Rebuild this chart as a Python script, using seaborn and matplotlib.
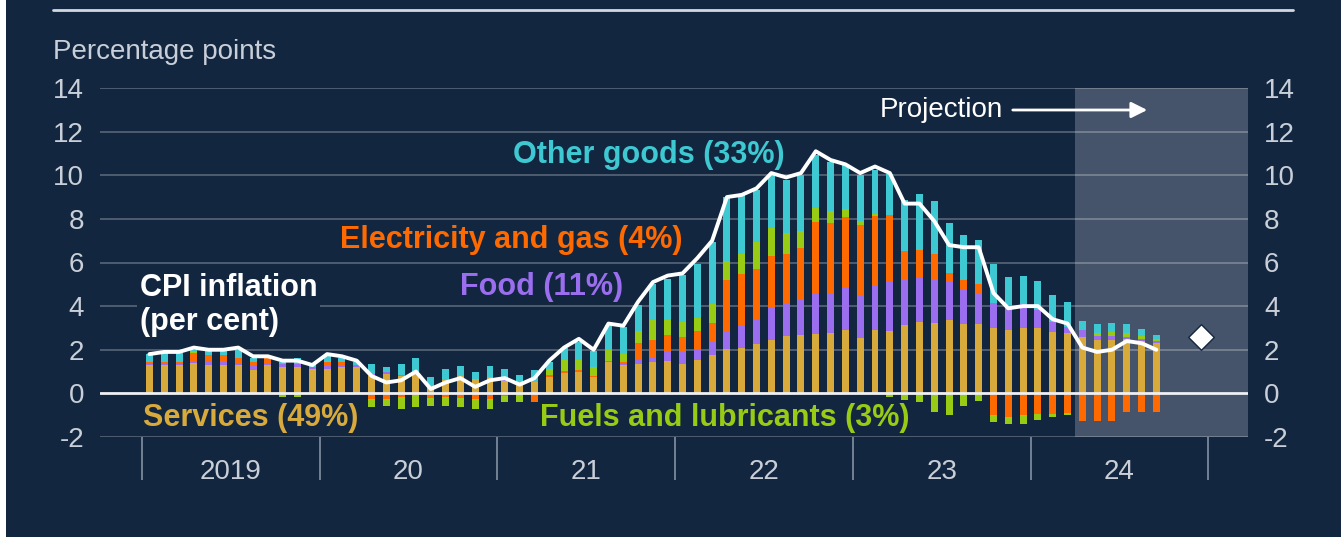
import numpy as np
import pandas as pd
import matplotlib
matplotlib.use("Agg")
import matplotlib.pyplot as plt
from matplotlib.lines import Line2D
from matplotlib.patches import Rectangle
import seaborn as sns

# contributions to CPI inflation, percentage points, Jan 2019 - Sep 2024
services = [1.28, 1.28, 1.28, 1.39, 1.30, 1.28, 1.28, 1.06, 1.30, 1.20, 1.20, 1.10,
            1.10, 1.20, 1.20, 0.80, 0.90, 0.80, 1.00, 0.32, 0.60, 0.80, 0.65, 0.75,
            0.55, 0.50, 0.52, 0.75, 0.92, 1.00, 0.75, 1.43, 1.28, 1.36, 1.43, 1.50,
            1.36, 1.51, 1.74, 2.05, 2.10, 2.28, 2.46, 2.61, 2.69, 2.74, 2.77, 2.92,
            2.55, 2.89, 2.86, 3.12, 3.27, 3.23, 3.38, 3.17, 3.20, 3.00, 2.89, 3.01,
            3.01, 2.81, 2.77, 2.58, 2.46, 2.46, 2.50, 2.40, 2.30]
food = [0.10, 0.10, 0.10, 0.10, 0.12, 0.18, 0.10, 0.18, 0.10, 0.16, 0.16, 0.10,
        0.15, 0.12, 0.12, 0.10, 0.10, 0.05, 0.00, 0.03, 0.00, 0.00, -0.05, -0.10,
        0.05, 0.00, 0.00, 0.00, -0.03, 0.00, 0.00, 0.00, 0.07, 0.18, 0.23, 0.40,
        0.54, 0.54, 0.66, 0.76, 0.97, 1.10, 1.47, 1.47, 1.65, 1.80, 1.83, 1.96,
        1.95, 2.06, 2.24, 2.14, 2.07, 1.95, 1.72, 1.59, 1.40, 1.15, 1.15, 1.10,
        0.80, 0.46, 0.27, 0.31, 0.15, 0.15, 0.10, 0.10, 0.10]
elec_gas = [0.05, 0.05, 0.05, 0.38, 0.34, 0.28, 0.23, 0.20, 0.22, 0.00, 0.00, 0.00,
            0.20, 0.10, 0.00, -0.24, -0.24, -0.15, -0.08, -0.20, -0.17, -0.20, -0.20, -0.15,
            -0.10, 0.00, -0.40, 0.08, 0.12, 0.07, 0.05, 0.06, 0.08, 0.76, 0.77, 0.76,
            0.70, 0.81, 0.83, 2.37, 2.39, 2.34, 2.35, 2.33, 2.34, 3.32, 3.21, 3.21,
            3.21, 3.17, 3.07, 1.27, 1.25, 1.23, 0.42, 0.42, 0.43, -1.00, -1.09, -1.01,
            -0.93, -0.93, -0.90, -1.28, -1.28, -1.28, -0.87, -0.87, -0.87]
fuels = [0.00, 0.02, 0.03, 0.08, 0.02, 0.00, 0.00, 0.00, -0.05, -0.17, -0.17, 0.00,
         0.05, 0.03, 0.00, -0.40, -0.36, -0.55, -0.55, -0.40, -0.43, -0.43, -0.45, -0.45,
         -0.30, -0.40, 0.00, 0.27, 0.47, 0.46, 0.39, 0.48, 0.39, 0.56, 0.95, 0.72,
         0.67, 0.61, 0.85, 0.89, 0.95, 1.22, 1.32, 0.94, 0.77, 0.66, 0.55, 0.38,
         0.19, 0.12, -0.17, -0.29, -0.39, -0.85, -0.97, -0.60, -0.35, -0.30, -0.33, -0.41,
         -0.27, -0.16, -0.08, 0.00, 0.16, 0.20, 0.17, 0.12, 0.10]
other_goods = [0.37, 0.40, 0.40, 0.05, 0.20, 0.26, 0.38, 0.20, 0.05, 0.10, 0.25, 0.10,
               0.25, 0.15, 0.10, 0.46, 0.20, 0.50, 0.64, 0.40, 0.50, 0.45, 0.33, 0.50,
               0.50, 0.33, 0.57, 0.34, 0.55, 0.82, 0.75, 1.15, 1.22, 1.18, 1.65, 1.88,
               2.14, 2.48, 2.86, 2.93, 2.67, 2.37, 2.40, 2.42, 2.55, 2.40, 2.25, 1.99,
               2.10, 1.99, 1.91, 2.32, 2.57, 2.41, 2.29, 2.07, 1.99, 1.77, 1.30, 1.26,
               1.34, 1.23, 1.15, 0.43, 0.40, 0.42, 0.40, 0.31, 0.16]
cpi = [1.8, 1.9, 1.9, 2.1, 2.0, 2.0, 2.1, 1.7, 1.7, 1.5, 1.5, 1.3,
       1.8, 1.7, 1.5, 0.8, 0.5, 0.6, 1.0, 0.2, 0.5, 0.7, 0.3, 0.6,
       0.7, 0.4, 0.7, 1.5, 2.1, 2.5, 2.0, 3.2, 3.1, 4.2, 5.1, 5.4,
       5.5, 6.2, 7.0, 9.0, 9.1, 9.4, 10.1, 9.9, 10.1, 11.1, 10.7, 10.5,
       10.1, 10.4, 10.1, 8.7, 8.7, 7.9, 6.8, 6.7, 6.7, 4.6, 3.9, 4.0,
       4.0, 3.4, 3.2, 2.1, 1.9, 2.0, 2.4, 2.3, 2.0]
q4_projection = 2.6

year_labels = ["2019", "20", "21", "22", "23", "24"]
series_names = ["Services (49%)", "Food (11%)", "Electricity and gas (4%)",
                "Fuels and lubricants (3%)", "Other goods (33%)"]

BG = "#13263f"
SHADE = "#45546a"
TXT = "#c9cfd8"
colors = ["#d8aa3c", "#9b6ef0", "#ff6a00", "#98cc14", "#3ec8d2"]

sns.set_theme(style="dark", rc={"axes.facecolor": BG, "figure.facecolor": BG})
plt.rcParams["font.family"] = ["Liberation Sans", "DejaVu Sans"]
plt.rcParams["axes.unicode_minus"] = False

n = len(cpi)
xpos = 2019 + (np.arange(n) + 0.5) / 12
df = pd.DataFrame({"x": xpos, "cpi": cpi})

W, H = 1341, 537
fig = plt.figure(figsize=(W / 100, H / 100), dpi=100)
ax = fig.add_axes([100 / W, 1 - 437 / H, (1248 - 100) / W, (437 - 88) / H])
ax.set_facecolor(BG)
x0, x1 = 2019 - 42 / 177.7, 2019 + 1106 / 177.7
ax.set_xlim(x0, x1)
ax.set_ylim(-2, 14)

# projection shading
ax.axvspan(2024.25, x1, color=SHADE, zorder=0.2, lw=0)
for yv in range(-2, 15, 2):
    if yv != 0:
        ax.axhline(yv, color="white", alpha=0.25, lw=1.4, zorder=0.5)

# stacked bars: positives upward, negatives downward
data = np.array([services, food, elec_gas, fuels, other_goods])
pos_base = np.zeros(n)
neg_base = np.zeros(n)
bw = 0.47 / 12
for vals, col in zip(data, colors):
    pv = np.clip(vals, 0, None)
    nv = np.clip(vals, None, 0)
    ax.bar(xpos, pv, bottom=pos_base, width=bw, color=col, lw=0, zorder=2)
    ax.bar(xpos, nv, bottom=neg_base, width=bw, color=col, lw=0, zorder=2)
    pos_base += pv
    neg_base += nv

ax.axhline(0, color="#eef0f3", lw=2, zorder=3)

sns.lineplot(data=df, x="x", y="cpi", ax=ax, color="white", lw=2.8, zorder=4)
sns.scatterplot(x=[2024 + 11.5 / 12], y=[q4_projection], ax=ax, marker="D", s=170,
                color="white", edgecolor=BG, linewidth=1, zorder=5)

ax.set_xlabel("")
ax.set_ylabel("")
for s in ax.spines.values():
    s.set_visible(False)
ax.grid(False)

ax.set_yticks(range(-2, 15, 2))
ax.tick_params(axis="y", left=False, right=False, labelleft=True, labelright=True,
               pad=5.5, labelsize=20, labelcolor=TXT)
ax.set_xticks(range(2019, 2026))
ax.set_xticklabels([])
ax.set_xticks([2019.5 + i for i in range(len(year_labels))], minor=True)
ax.set_xticklabels(year_labels, minor=True)
ax.tick_params(axis="x", which="major", bottom=True, length=31, width=1.2,
               color="#8390a2", direction="out")
ax.tick_params(axis="x", which="minor", bottom=True, length=0, pad=16,
               labelsize=20, labelcolor=TXT)


def ftext(px, py, s, **kw):
    return fig.text(px / W, 1 - py / H, s, va="center", ha="left", **kw)


ftext(53, 52, "Percentage points", fontsize=20, color=TXT)
ftext(513, 155, series_names[4], fontsize=22, fontweight="bold", color=colors[4])
ftext(340, 240, series_names[2], fontsize=22, fontweight="bold", color=colors[2])
ftext(460, 287, series_names[1], fontsize=22, fontweight="bold", color=colors[1],
      bbox=dict(facecolor=BG, edgecolor="none", pad=1))
ftext(140, 305, "CPI inflation\n(per cent)", fontsize=22, fontweight="bold",
      color="white", linespacing=1.15,
      bbox=dict(facecolor=BG, edgecolor="none", pad=2))
ftext(143, 418, series_names[0], fontsize=22, fontweight="bold", color=colors[0])
ftext(540, 418, series_names[3], fontsize=22, fontweight="bold", color=colors[3])
ftext(880, 110, "Projection", fontsize=20, color="white")
ax.annotate("", xy=(1150 / W, 1 - 110 / H), xytext=(1010 / W, 1 - 110 / H),
            xycoords="figure fraction", textcoords="figure fraction",
            arrowprops=dict(arrowstyle="-|>", color="white", lw=2, mutation_scale=24))

fig.add_artist(Line2D([53 / W, 1293 / W], [1 - 10 / H] * 2, color="#d3d8e0", lw=2))
fig.add_artist(Rectangle((0, 0), 6 / W, 1, transform=fig.transFigure,
                         facecolor="white", edgecolor="none"))

fig.savefig("out.png", dpi=100, facecolor=BG)
